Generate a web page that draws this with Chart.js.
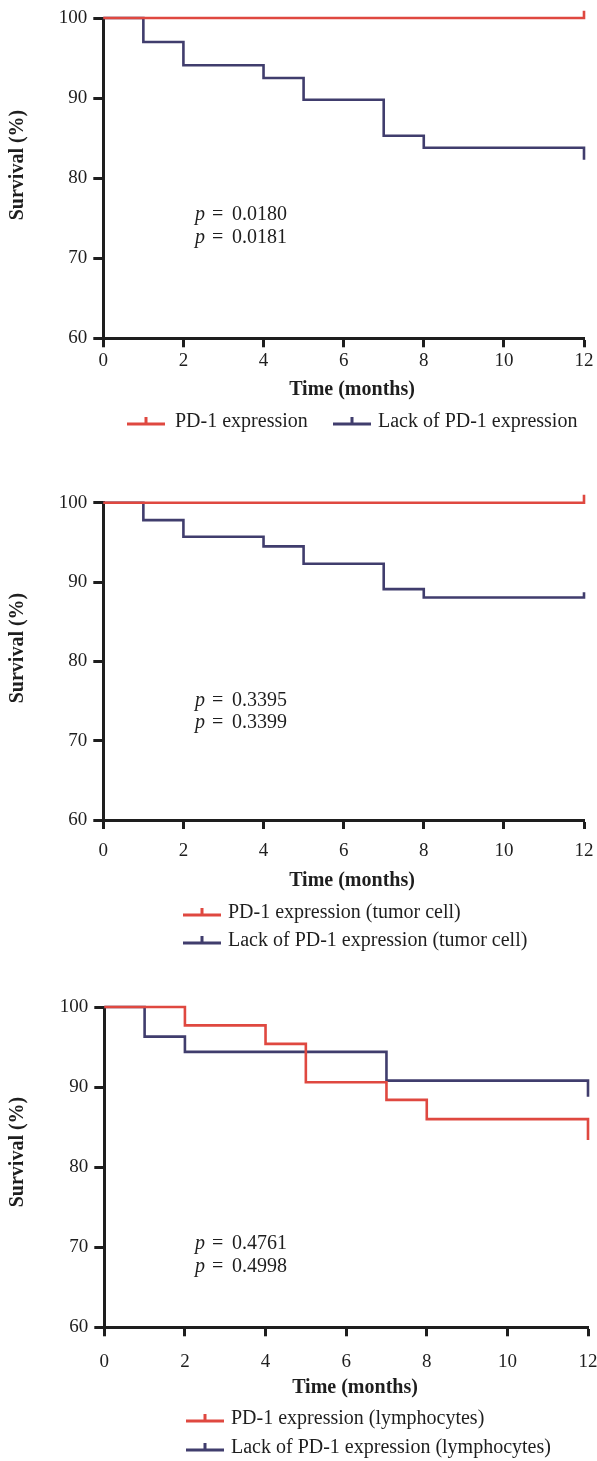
<!DOCTYPE html>
<html><head><meta charset="utf-8">
<script src="https://cdn.jsdelivr.net/npm/chart.js@4.4.1/dist/chart.umd.min.js"></script>
<style>
html,body{margin:0;padding:0;background:#fff;}
body{width:597px;height:1461px;position:relative;overflow:hidden;}
canvas{position:absolute;left:0;}
</style></head><body>
<canvas id="c1" width="597" height="460" style="top:0px;width:597px;height:460px"></canvas>
<canvas id="c2" width="597" height="500" style="top:460px;width:597px;height:500px"></canvas>
<canvas id="c3" width="597" height="501" style="top:960px;width:597px;height:501px"></canvas>
<script>
// ---- tick labels ----
const xTicks = [0, 2, 4, 6, 8, 10, 12];
const yTicks = [60, 70, 80, 90, 100];
const xTitle = 'Time (months)';
const yTitle = 'Survival (%)';

// ---- chart 1 ----
const labels1 = ['PD-1 expression', 'Lack of PD-1 expression'];
const t1Expr = [0, 12, 12];
const s1Expr = [100, 100, 100.9];
const t1Lack = [0, 1, 2, 4, 5, 7, 8, 12, 12];
const s1Lack = [100, 97.0, 94.1, 92.5, 89.8, 85.3, 83.8, 83.8, 82.3];
const p1 = ['0.0180', '0.0181'];

// ---- chart 2 ----
const labels2 = ['PD-1 expression (tumor cell)', 'Lack of PD-1 expression (tumor cell)'];
const t2Expr = [0, 12, 12];
const s2Expr = [100, 100, 101.0];
const t2Lack = [0, 1, 2, 4, 5, 7, 8, 12, 12];
const s2Lack = [100, 97.8, 95.7, 94.5, 92.3, 89.1, 88.05, 88.05, 88.7];
const p2 = ['0.3395', '0.3399'];

// ---- chart 3 ----
const labels3 = ['PD-1 expression (lymphocytes)', 'Lack of PD-1 expression (lymphocytes)'];
const t3Expr = [0, 2, 4, 5, 7, 8, 12, 12];
const s3Expr = [100, 97.7, 95.4, 90.6, 88.4, 86.0, 86.0, 83.4];
const t3Lack = [0, 1, 2, 7, 12, 12];
const s3Lack = [100, 96.3, 94.4, 90.8, 90.8, 88.8];
const p3 = ['0.4761', '0.4998'];

// ---- styles ----
const RED = '#df4840';
const BLUE = '#403d6d';
const INK = '#1e1e1e';
const SERIF = '"Liberation Serif", "Times New Roman", serif';

function pts(t, s) { return t.map((x, i) => ({x: x, y: s[i]})); }

const textPlugin = {
  id: 'kmText',
  afterDraw(chart) {
    const L = chart.options.plugins.kmText;
    const ctx = chart.ctx;
    const o = L.offsetTop;
    ctx.save();
    ctx.fillStyle = INK;
    ctx.textBaseline = 'middle';
    // y title
    ctx.save();
    ctx.font = 'bold 20px ' + SERIF;
    ctx.textAlign = 'center';
    ctx.translate(L.yTitle.x, L.yTitle.y - o);
    ctx.rotate(-Math.PI / 2);
    ctx.fillText(yTitle, 0, 0);
    ctx.restore();
    // x title
    ctx.font = 'bold 20px ' + SERIF;
    ctx.textAlign = 'center';
    ctx.fillText(xTitle, L.xTitle.x, L.xTitle.y - o);
    // p values
    ctx.textAlign = 'left';
    L.pValues.forEach((v, i) => {
      const y = L.p.ys[i] - o;
      ctx.font = 'italic 20px ' + SERIF;
      ctx.fillText('p', L.p.x, y);
      ctx.font = '20px ' + SERIF;
      ctx.fillText('=', L.p.x + 17, y);
      ctx.fillText(v, L.p.x + 37, y);
    });
    // legend
    chart.data.datasets.forEach((ds, i) => {
      const it = L.legend[i];
      const y = it.y - o;
      ctx.strokeStyle = ds.borderColor;
      ctx.lineWidth = 3;
      ctx.beginPath();
      ctx.moveTo(it.lineX, y + 2);
      ctx.lineTo(it.lineX + 38, y + 2);
      ctx.moveTo(it.lineX + 19, y + 2);
      ctx.lineTo(it.lineX + 19, y - 5);
      ctx.stroke();
      ctx.fillStyle = INK;
      ctx.font = '20px ' + SERIF;
      ctx.textAlign = 'left';
      ctx.fillText(ds.label, it.textX, y);
    });
    ctx.restore();
  }
};

function makeChart(id, labels, tE, sE, tL, sL, pv, geo) {
  const axisCommon = {
    type: 'linear',
    border: {display: true, width: 3, color: INK},
    grid: {display: true, drawOnChartArea: false, drawTicks: true, tickWidth: 3, tickColor: INK, color: INK},
  };
  return new Chart(document.getElementById(id), {
    type: 'line',
    data: {
      datasets: [
        {label: labels[0], data: pts(tE, sE), borderColor: RED, backgroundColor: RED,
         borderWidth: 2.6, pointRadius: 0, stepped: 'before', fill: false, clip: false},
        {label: labels[1], data: pts(tL, sL), borderColor: BLUE, backgroundColor: BLUE,
         borderWidth: 2.6, pointRadius: 0, stepped: 'before', fill: false, clip: false}
      ]
    },
    options: {
      responsive: false,
      animation: false,
      devicePixelRatio: 1,
      layout: {autoPadding: false, padding: {left: 0, right: geo.padRight, top: geo.padTop, bottom: 0}},
      plugins: {
        legend: {display: false},
        tooltip: {enabled: false},
        kmText: {offsetTop: geo.offsetTop, yTitle: geo.yTitle, xTitle: geo.xTitle, p: geo.p, legend: geo.legend, pValues: pv}
      },
      scales: {
        x: Object.assign({}, axisCommon, {
          position: 'bottom', min: 0, max: 12,
          grid: Object.assign({}, axisCommon.grid, {tickLength: 9}),
          ticks: {font: {family: SERIF, size: 19, lineHeight: 1.2}, color: INK, padding: geo.xPad, maxRotation: 0, autoSkip: false},
          afterBuildTicks: s => { s.ticks = xTicks.map(v => ({value: v})); },
          afterFit: s => { s.height = geo.xAxisH; s.paddingLeft = 0; s.paddingRight = 0; }
        }),
        y: Object.assign({}, axisCommon, {
          position: 'left', min: 60, max: 100,
          grid: Object.assign({}, axisCommon.grid, {tickLength: 10}),
          ticks: {font: {family: SERIF, size: 19, lineHeight: 1.2}, color: INK, padding: 6, autoSkip: false},
          afterBuildTicks: s => { s.ticks = yTicks.map(v => ({value: v})); },
          afterFit: s => { s.width = geo.yAxisW; s.paddingTop = 0; s.paddingBottom = 0; }
        })
      }
    },
    plugins: [textPlugin]
  });
}

makeChart('c1', labels1, t1Expr, s1Expr, t1Lack, s1Lack, p1, {
  offsetTop: 0, padTop: 18, padRight: 13, xAxisH: 121.7, yAxisW: 103.3, xPad: 2.6,
  yTitle: {x: 18, y: 165}, xTitle: {x: 352, y: 390},
  p: {x: 195, ys: [215, 238]},
  legend: [{lineX: 127, textX: 175, y: 422}, {lineX: 333, textX: 378, y: 422}]
});
makeChart('c2', labels2, t2Expr, s2Expr, t2Lack, s2Lack, p2, {
  offsetTop: 460, padTop: 42.7, padRight: 13, xAxisH: 140, yAxisW: 103.3, xPad: 10.6,
  yTitle: {x: 18, y: 648}, xTitle: {x: 352, y: 881},
  p: {x: 195, ys: [701, 723]},
  legend: [{lineX: 183, textX: 228, y: 913}, {lineX: 183, textX: 228, y: 941}]
});
makeChart('c3', labels3, t3Expr, s3Expr, t3Lack, s3Lack, p3, {
  offsetTop: 960, padTop: 47, padRight: 9, xAxisH: 133.7, yAxisW: 104.3, xPad: 14.3,
  yTitle: {x: 18, y: 1152}, xTitle: {x: 355, y: 1388},
  p: {x: 195, ys: [1244, 1267]},
  legend: [{lineX: 186, textX: 231, y: 1419}, {lineX: 186, textX: 231, y: 1448}]
});
</script>
</body></html>
